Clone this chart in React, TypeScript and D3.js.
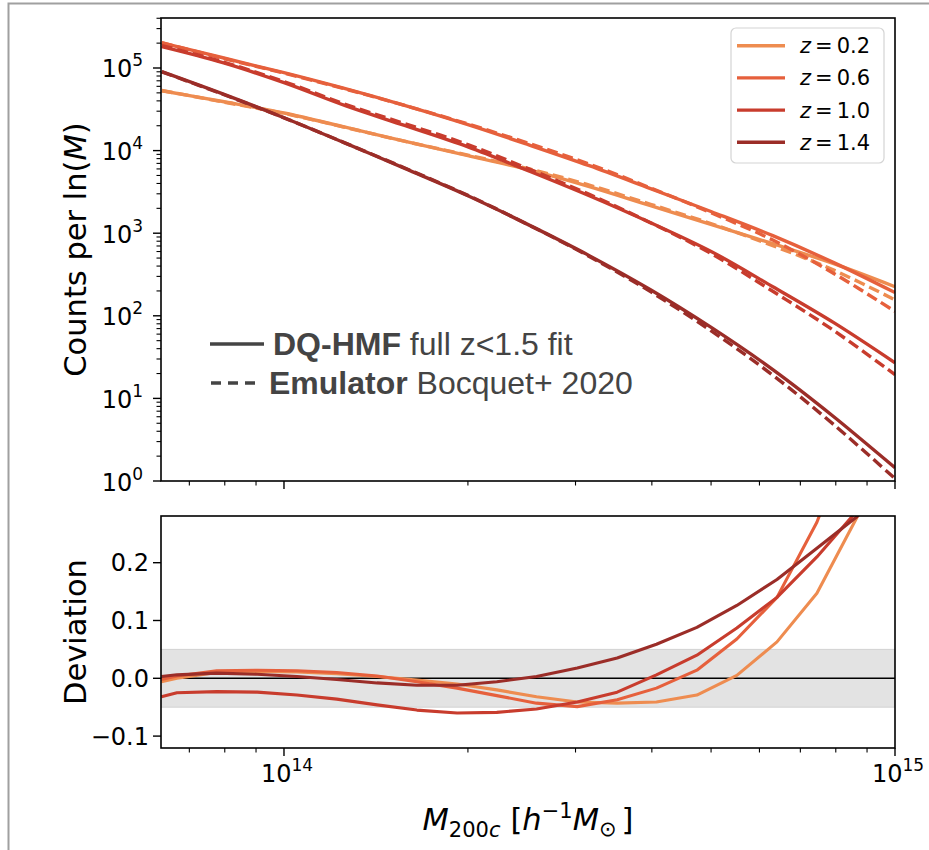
import React from 'react';
import * as d3 from 'd3';

// ---------- DATA ----------
const redshiftLabels = ['0.2', '0.6', '1.0', '1.4'];
const seriesColors = ['#ee8c50', '#e6603c', '#c83c2d', '#9b2d28'];

// Top panel: halo mass grid (h^-1 Msun)
const massTop = [6.31e13, 7.94e13, 1.0e14, 1.26e14, 1.58e14, 2.0e14, 2.51e14, 3.16e14, 3.98e14, 5.01e14, 6.31e14, 7.94e14, 1.0e15];

// DQ-HMF fit (solid) counts per ln(M)
const dqZ02 = [53100, 39300, 28500, 19200, 12900, 8700, 5870, 3660, 2150, 1270, 746, 428, 225];
const dqZ06 = [202000, 133000, 87700, 56100, 35000, 20600, 11800, 6560, 3460, 1820, 933, 440, 191];
const dqZ10 = [181000, 116000, 66400, 35000, 20000, 11100, 5710, 2840, 1340, 597, 225, 82.6, 27.0];
const dqZ14 = [90200, 48500, 25000, 12300, 6040, 2840, 1270, 535, 207, 71.8, 22.3, 6.0, 1.45];

// Emulator Bocquet+ 2020 (dashed)
const emuZ02 = [53400, 38900, 28200, 19100, 12910, 8810, 6050, 3820, 2240, 1300, 706, 357, 156];
const emuZ06 = [202400, 131300, 86600, 55600, 35100, 21000, 12290, 6870, 3530, 1760, 826, 326, 113];
const emuZ10 = [186800, 118700, 68500, 36400, 21100, 11810, 6040, 2950, 1340, 564, 198, 66.3, 19.4];
const emuZ14 = [89900, 48100, 24950, 12340, 6110, 2870, 1269, 523, 196, 65.2, 19.1, 4.81, 1.07];

// Bottom panel: deviation
const massBottom = [6.30e13, 6.68e13, 7.76e13, 9.04e13, 1.05e14, 1.22e14, 1.42e14, 1.65e14, 1.92e14, 2.23e14, 2.59e14, 3.02e14, 3.51e14, 4.07e14, 4.74e14, 5.51e14, 6.41e14, 7.45e14, 8.67e14, 1.007e15];
const devZ02 = [-0.006, 0.0, 0.010, 0.012, 0.011, 0.008, 0.003, -0.003, -0.010, -0.020, -0.032, -0.041, -0.043, -0.041, -0.029, 0.005, 0.063, 0.147, 0.279, 0.45];
const devZ06 = [-0.002, 0.004, 0.013, 0.014, 0.013, 0.010, 0.004, -0.006, -0.017, -0.030, -0.043, -0.049, -0.037, -0.017, 0.014, 0.068, 0.140, 0.270, 0.45, 0.70];
const devZ10 = [-0.032, -0.025, -0.023, -0.024, -0.029, -0.036, -0.046, -0.055, -0.060, -0.059, -0.053, -0.041, -0.024, 0.006, 0.040, 0.087, 0.140, 0.210, 0.290, 0.40];
const devZ14 = [0.003, 0.006, 0.009, 0.007, 0.003, -0.002, -0.008, -0.012, -0.012, -0.006, 0.003, 0.018, 0.035, 0.059, 0.088, 0.126, 0.171, 0.225, 0.280, 0.35];

const topYTicks = [1, 10, 100, 1000, 10000, 100000];
const botYTicks = [-0.1, 0.0, 0.1, 0.2];
const xMajorTicks = [1e14, 1e15];
const bandHalfWidth = 0.05;

const dqSeries = [dqZ02, dqZ06, dqZ10, dqZ14];
const emuSeries = [emuZ02, emuZ06, emuZ10, emuZ14];
const devSeries = [devZ02, devZ06, devZ10, devZ14];

// ---------- LAYOUT ----------
const W = 929, H = 850;
const L = 161, R = 895;
const topY0 = 18, topY1 = 481;
const botY0 = 516, botY1 = 748;
const FONT = 'DejaVu Sans, sans-serif';
const ANNO_FONT = 'Liberation Sans, Arial, sans-serif';

const x = d3.scaleLog().domain([6.291e13, 1e15]).range([L, R]);
const yTop = d3.scaleLog().domain([1, 4.03e5]).range([topY1, topY0]);
const yBot = d3.scaleLinear().domain([-0.1206, 0.2808]).range([botY1, botY0]);

function minorLogTicks(lo: number, hi: number) {
  const out: number[] = [];
  for (let e = Math.floor(Math.log10(lo)); e <= Math.ceil(Math.log10(hi)); e++) {
    for (let k = 2; k <= 9; k++) {
      const v = k * Math.pow(10, e);
      if (v >= lo && v <= hi * 1.0001) out.push(v);
    }
  }
  return out;
}

const xMinor = minorLogTicks(6.291e13, 1e15);
const yMinor = minorLogTicks(1, 4.03e5);

function XTicks({ y0 }: { y0: number }) {
  return (
    <g stroke="#000" strokeWidth={1.4}>
      {xMajorTicks.map((t) => (
        <line key={'M' + t} x1={x(t)} x2={x(t)} y1={y0} y2={y0 + 8} />
      ))}
      {xMinor.map((t) => (
        <line key={'m' + t} x1={x(t)} x2={x(t)} y1={y0} y2={y0 + 4.5} strokeWidth={1.1} />
      ))}
    </g>
  );
}

export default function App() {
  const lineTop = d3
    .line<number>()
    .x((_, i) => x(massTop[i]))
    .y((d) => yTop(d))
    .curve(d3.curveCatmullRom.alpha(0.5));
  const lineBot = d3
    .line<number>()
    .x((_, i) => x(massBottom[i]))
    .y((d) => yBot(d));

  return (
    <svg
      width={W}
      height={H}
      style={{ position: 'absolute', left: 0, top: 0, background: '#fff' }}
      fontFamily={FONT}
    >
      <defs>
        <clipPath id="clipTop">
          <rect x={L} y={topY0} width={R - L} height={topY1 - topY0} />
        </clipPath>
        <clipPath id="clipBot">
          <rect x={L} y={botY0} width={R - L} height={botY1 - botY0} />
        </clipPath>
      </defs>
      <rect x={0} y={0} width={W} height={H} fill="#fff" />
      {/* outer frame */}
      <rect x={8.5} y={3.5} width={W + 20} height={H + 20} fill="none" stroke="#a0a0a0" strokeWidth={2} />

      {/* ---------- TOP PANEL ---------- */}
      <g clipPath="url(#clipTop)">
        {dqSeries.map((s, i) => (
          <g key={i}>
            <path d={lineTop(s) || ''} fill="none" stroke={seriesColors[i]} strokeWidth={3.4} />
            <path
              d={lineTop(emuSeries[i]) || ''}
              fill="none"
              stroke={seriesColors[i]}
              strokeWidth={3.4}
              strokeDasharray="11,5"
            />
          </g>
        ))}
      </g>
      <rect x={L} y={topY0} width={R - L} height={topY1 - topY0} fill="none" stroke="#000" strokeWidth={1.6} />
      <XTicks y0={topY1} />
      <g stroke="#000">
        {topYTicks.map((t) => (
          <line key={t} x1={L - 8} x2={L} y1={yTop(t)} y2={yTop(t)} strokeWidth={1.4} />
        ))}
        {yMinor.map((t) => (
          <line key={'m' + t} x1={L - 4.5} x2={L} y1={yTop(t)} y2={yTop(t)} strokeWidth={1.1} />
        ))}
      </g>
      <g fontSize={24} fill="#000">
        {topYTicks.map((t) => (
          <text key={t} x={143} y={yTop(t) + 9.5} textAnchor="end">
            10
            <tspan fontSize={17} dy={-11}>
              {Math.round(Math.log10(t))}
            </tspan>
          </text>
        ))}
      </g>
      <text
        transform={`translate(86, ${(topY0 + topY1) / 2}) rotate(-90)`}
        textAnchor="middle"
        fontSize={30.5}
        fill="#000"
      >
        Counts per ln(<tspan fontStyle="italic">M</tspan>)
      </text>

      {/* annotation */}
      <g fill="#444" fontFamily={ANNO_FONT} fontSize={32}>
        <line x1={210} x2={264} y1={344} y2={344} stroke="#444" strokeWidth={3.4} />
        <text x={273} y={355}>
          <tspan fontWeight="bold">DQ-HMF</tspan> full z&lt;1.5 fit
        </text>
        <line x1={211} x2={262} y1={383} y2={383} stroke="#444" strokeWidth={3.4} strokeDasharray="10,7" />
        <text x={269} y={394}>
          <tspan fontWeight="bold">Emulator</tspan> Bocquet+ 2020
        </text>
      </g>

      {/* legend */}
      <g>
        <rect x={731} y={28} width={153} height={135} rx={5} fill="#fff" fillOpacity={0.8} stroke="#d4d4d4" strokeWidth={1.2} />
        {redshiftLabels.map((z, i) => {
          const yy = 45.7 + i * 32.2;
          return (
            <g key={z}>
              <line x1={737} x2={785} y1={yy} y2={yy} stroke={seriesColors[i]} strokeWidth={3.4} />
              <text x={800} y={yy + 7.5} fontSize={21} fill="#000">
                <tspan fontStyle="italic">z</tspan>
                <tspan dx={4}>=</tspan>
                <tspan dx={4}>{z}</tspan>
              </text>
            </g>
          );
        })}
      </g>

      {/* ---------- BOTTOM PANEL ---------- */}
      <g clipPath="url(#clipBot)">
        <rect
          x={L}
          y={yBot(bandHalfWidth)}
          width={R - L}
          height={yBot(-bandHalfWidth) - yBot(bandHalfWidth)}
          fill="#e3e3e3"
          stroke="#d2d2d2"
          strokeWidth={1}
        />
        <line x1={L} x2={R} y1={yBot(0)} y2={yBot(0)} stroke="#000" strokeWidth={1.6} />
        {devSeries.map((s, i) => (
          <path key={i} d={lineBot(s) || ''} fill="none" stroke={seriesColors[i]} strokeWidth={3.1} strokeLinejoin="round" />
        ))}
      </g>
      <rect x={L} y={botY0} width={R - L} height={botY1 - botY0} fill="none" stroke="#000" strokeWidth={1.6} />
      <XTicks y0={botY1} />
      <g stroke="#000" strokeWidth={1.4}>
        {botYTicks.map((t) => (
          <line key={t} x1={L - 8} x2={L} y1={yBot(t)} y2={yBot(t)} />
        ))}
      </g>
      <g fontSize={24} fill="#000">
        {botYTicks.map((t) => (
          <text key={t} x={149} y={yBot(t) + 8.7} textAnchor="end">
            {t < 0 ? '\u2212' + Math.abs(t).toFixed(1) : t.toFixed(1)}
          </text>
        ))}
        {xMajorTicks.map((t) => (
          <text key={t} x={x(t) + 3} y={782} textAnchor="middle">
            10
            <tspan fontSize={17} dy={-11}>
              {Math.round(Math.log10(t))}
            </tspan>
          </text>
        ))}
      </g>
      <text
        transform={`translate(86, ${(botY0 + botY1) / 2}) rotate(-90)`}
        textAnchor="middle"
        fontSize={30.5}
        fill="#000"
      >
        Deviation
      </text>
      <text x={(L + R) / 2} y={830} textAnchor="middle" fontSize={30.5} fill="#000">
        <tspan fontStyle="italic">M</tspan>
        <tspan fontSize={21} dy={7}>200</tspan>
        <tspan fontSize={21} fontStyle="italic">c</tspan>
        <tspan dy={-7} dx={10}>[</tspan>
        <tspan fontStyle="italic">h</tspan>
        <tspan fontSize={21} dy={-12}>{'\u22121'}</tspan>
        <tspan fontStyle="italic" dy={12}>M</tspan>
        <tspan fontSize={21} dy={6}>{'\u2299'}</tspan>
        <tspan dy={-6} dx={5}>]</tspan>
      </text>
    </svg>
  );
}
